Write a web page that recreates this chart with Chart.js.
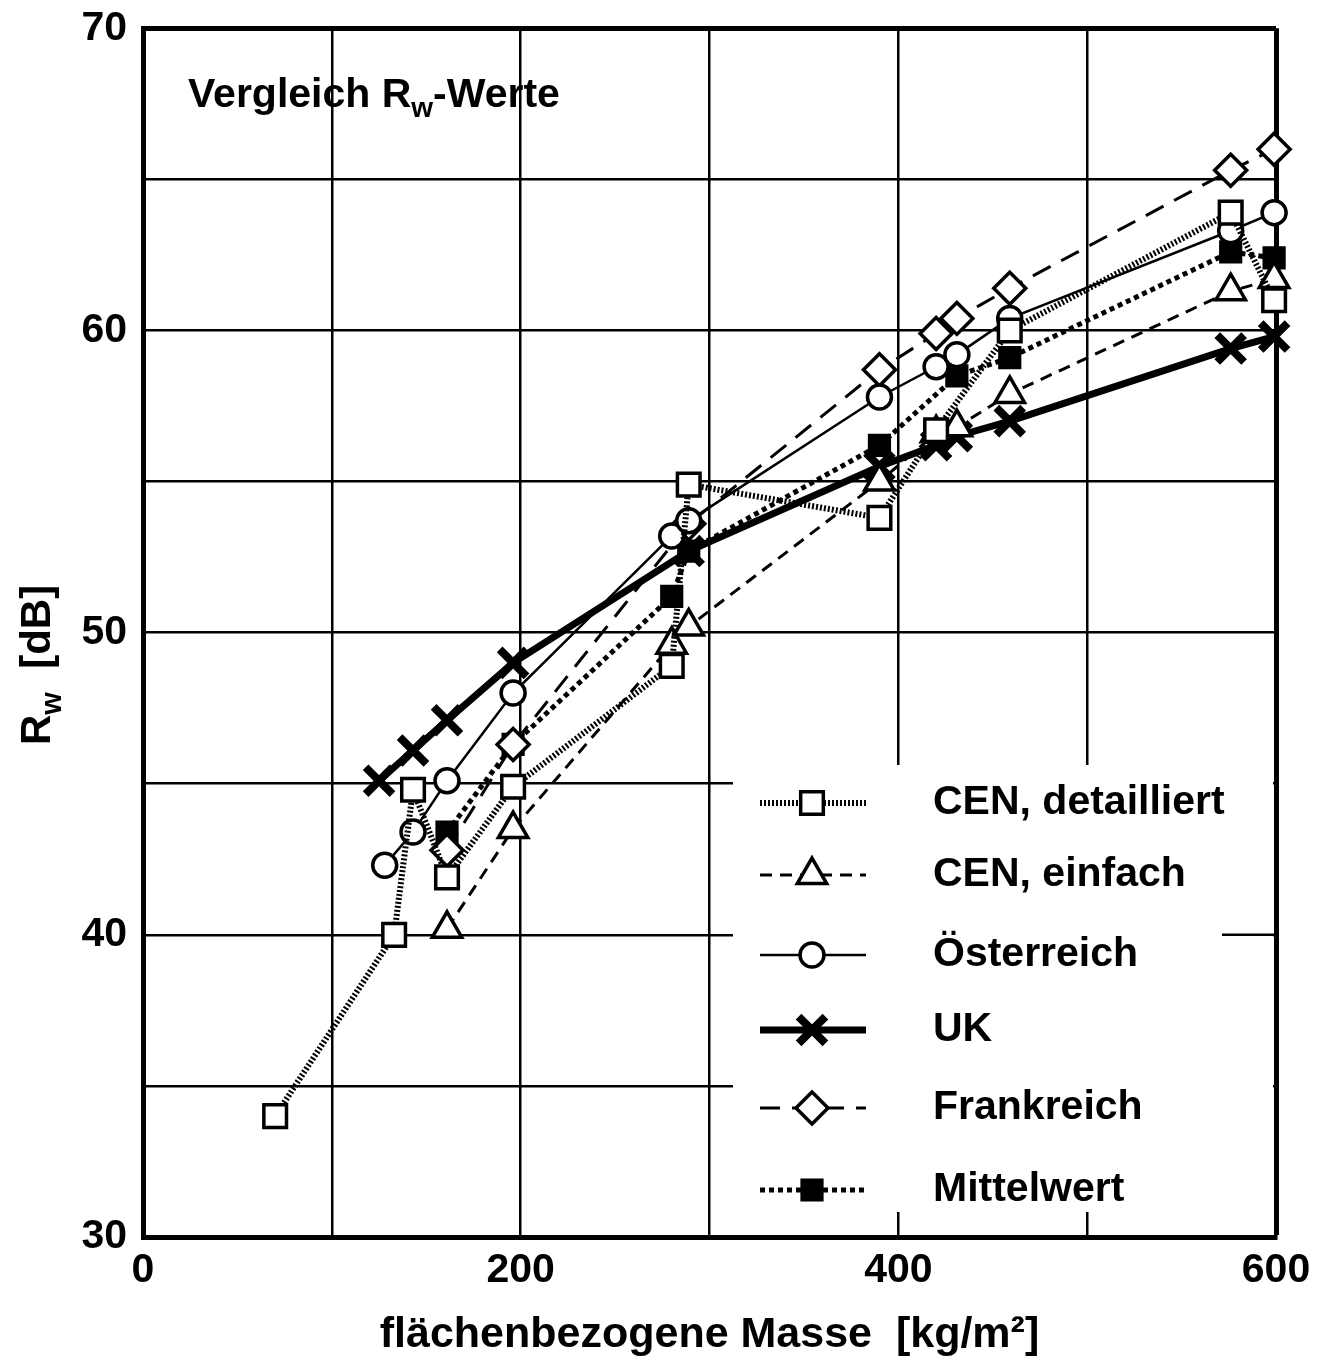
<!DOCTYPE html>
<html>
<head>
<meta charset="utf-8">
<script src="https://cdn.jsdelivr.net/npm/chart.js@4"></script>
<style>
  body { margin: 0; background: #fff; }
  canvas { display: block; }
</style>
</head>
<body>
<canvas id="chart" width="1323" height="1356"></canvas>
<script>
// surface mass [kg/m²] and Rw [dB] per method
const cenDetX = [70, 133, 143, 161, 196, 280, 289, 390, 420, 459, 576, 599];
const cenDetY = [34.0, 40.0, 44.8, 41.9, 44.9, 48.9, 54.9, 53.8, 56.7, 60.0, 63.9, 61.0];

const cenEinX = [161, 196, 280, 289, 390, 420, 431, 459, 576, 599];
const cenEinY = [40.2, 43.5, 49.6, 50.2, 55.0, 56.6, 56.8, 57.9, 61.3, 61.7];

const oesX = [128, 143, 161, 196, 280, 289, 390, 420, 431, 459, 576, 599];
const oesY = [42.3, 43.4, 45.1, 48.0, 53.2, 53.7, 57.8, 58.8, 59.2, 60.4, 63.3, 63.9];

const ukX = [125, 143, 161, 196, 289, 390, 420, 431, 459, 576, 599];
const ukY = [45.1, 46.1, 47.1, 49.0, 52.7, 55.5, 56.2, 56.5, 57.0, 59.4, 59.8];

const frX = [161, 196, 289, 390, 420, 431, 459, 576, 599];
const frY = [42.8, 46.3, 53.6, 58.7, 59.9, 60.4, 61.4, 65.3, 66.0];

const mittelX = [161, 196, 280, 289, 390, 431, 459, 576, 599];
const mittelY = [43.4, 46.3, 51.2, 52.7, 56.2, 58.5, 59.1, 62.6, 62.4];

const seriesNames = ['CEN, detailliert', 'CEN, einfach', 'Österreich', 'UK', 'Frankreich', 'Mittelwert'];
const xTickLabels = [0, 200, 400, 600];
const yTickLabels = [30, 40, 50, 60, 70];

const FONT = '"Liberation Sans", Arial, Helvetica, sans-serif';

const toPoints = (xs, ys) => xs.map((x, i) => ({ x: x, y: ys[i] }));

const ds = (label, xs, ys, style) => Object.assign({
    label: label,
    data: toPoints(xs, ys),
    borderColor: '#000',
    pointBorderColor: '#000',
    pointBackgroundColor: '#fff',
    backgroundColor: '#fff',
    fill: false,
    clip: false,
    tension: 0
}, style);

const datasets = [
    ds(seriesNames[0], cenDetX, cenDetY, { borderWidth: 6, borderDash: [2, 2], pointStyle: 'rect', pointRadius: 16, pointBorderWidth: 3.5 }),
    ds(seriesNames[1], cenEinX, cenEinY, { borderWidth: 3, borderDash: [12, 8], pointStyle: 'triangle', pointRadius: 17, pointBorderWidth: 3.5 }),
    ds(seriesNames[2], oesX, oesY, { borderWidth: 2.5, pointStyle: 'circle', pointRadius: 12, pointBorderWidth: 3.5 }),
    ds(seriesNames[3], ukX, ukY, { borderWidth: 7, pointStyle: 'crossRot', pointRadius: 19, pointBorderWidth: 8 }),
    ds(seriesNames[4], frX, frY, { borderWidth: 3, borderDash: [20, 12], pointStyle: 'rectRot', pointRadius: 16, pointBorderWidth: 3.5 }),
    ds(seriesNames[5], mittelX, mittelY, { borderWidth: 5, borderDash: [5, 4], pointStyle: 'rect', pointRadius: 15, pointBorderWidth: 2, pointBackgroundColor: '#000', backgroundColor: '#000' })
];

// write text with a subscript part, e.g. R + w
const subText = (ctx, parts, size, x, y) => {
    parts.forEach((p) => {
        const s = p.sub ? Math.round(size * 0.68) : size;
        ctx.font = 'bold ' + s + 'px ' + FONT;
        ctx.fillText(p.t, x, p.sub ? y + size * 0.25 : y);
        x += ctx.measureText(p.t).width;
    });
};

// white legend box, legend entries, inner title and y-axis title with subscript
const decorations = {
    id: 'decorations',
    beforeDatasetsDraw(chart) {
        const ctx = chart.ctx;
        const area = chart.chartArea;
        const y40 = chart.scales.y.getPixelForValue(40);
        ctx.save();
        ctx.fillStyle = '#fff';
        ctx.fillRect(733, 765, area.right - 733 - 3, 1212 - 765);
        ctx.strokeStyle = '#000';
        ctx.lineWidth = 2.5;
        ctx.beginPath();
        ctx.moveTo(1222, y40);
        ctx.lineTo(area.right, y40);
        ctx.stroke();
        ctx.restore();
    },
    afterDatasetsDraw(chart) {
        const ctx = chart.ctx;
        const rows = [803, 875, 955, 1030, 1108, 1190];
        ctx.save();
        chart.data.datasets.forEach((d, i) => {
            const y = rows[i];
            ctx.strokeStyle = '#000';
            ctx.lineWidth = d.borderWidth;
            ctx.setLineDash(d.borderDash || []);
            ctx.beginPath();
            ctx.moveTo(760, y);
            ctx.lineTo(866, y);
            ctx.stroke();
            ctx.setLineDash([]);
            ctx.fillStyle = d.pointBackgroundColor;
            ctx.strokeStyle = '#000';
            ctx.lineWidth = d.pointBorderWidth;
            Chart.helpers.drawPoint(ctx, { pointStyle: d.pointStyle, radius: d.pointRadius, rotation: 0, borderWidth: d.pointBorderWidth }, 812, y);
            ctx.fillStyle = '#000';
            ctx.font = 'bold 41px ' + FONT;
            ctx.textBaseline = 'middle';
            ctx.textAlign = 'left';
            ctx.fillText(d.label, 933, y);
        });

        // inner title
        ctx.textBaseline = 'alphabetic';
        subText(ctx, [{ t: 'Vergleich R' }, { t: 'w', sub: true }, { t: '-Werte' }], 41, 188, 107);

        // y-axis title
        ctx.translate(50, 745);
        ctx.rotate(-Math.PI / 2);
        subText(ctx, [{ t: 'R' }, { t: 'w', sub: true }, { t: '  [dB]' }], 42, 0, 0);
        ctx.restore();
    }
};

const ctx = document.getElementById('chart').getContext('2d');
new Chart(ctx, {
    type: 'line',
    data: { datasets: datasets },
    plugins: [decorations],
    options: {
        responsive: false,
        animation: false,
        devicePixelRatio: 1,
        layout: { autoPadding: false, padding: { top: 25, right: 47, left: 0, bottom: 0 } },
        plugins: { legend: { display: false }, tooltip: { enabled: false } },
        scales: {
            x: {
                type: 'linear',
                min: 0,
                max: 600,
                afterFit: (scale) => { scale.height = 119; },
                ticks: {
                    stepSize: 100,
                    autoSkip: false,
                    maxRotation: 0,
                    padding: 9,
                    color: '#000',
                    font: { family: FONT, size: 41, weight: 'bold' },
                    callback: (v) => xTickLabels.includes(v) ? String(v) : ''
                },
                grid: {
                    color: '#000',
                    drawTicks: false,
                    lineWidth: (c) => (c.tick && c.tick.value === 600) ? 5 : 2.5
                },
                border: { display: true, color: '#000', width: 5 },
                title: {
                    display: true,
                    text: 'flächenbezogene Masse  [kg/m²]',
                    color: '#000',
                    font: { family: FONT, size: 43, weight: 'bold' },
                    padding: { top: 0, bottom: -5 }
                }
            },
            y: {
                type: 'linear',
                min: 30,
                max: 70,
                afterFit: (scale) => { scale.width = 143; },
                ticks: {
                    stepSize: 5,
                    autoSkip: false,
                    padding: 16,
                    color: '#000',
                    font: { family: FONT, size: 41, weight: 'bold', lineHeight: 0.6 },
                    callback: (v) => yTickLabels.includes(v) ? String(v) : ''
                },
                grid: {
                    color: '#000',
                    drawTicks: false,
                    lineWidth: (c) => (c.tick && c.tick.value === 70) ? 5 : 2.5
                },
                border: { display: true, color: '#000', width: 5 }
            }
        }
    }
});
</script>
</body>
</html>
